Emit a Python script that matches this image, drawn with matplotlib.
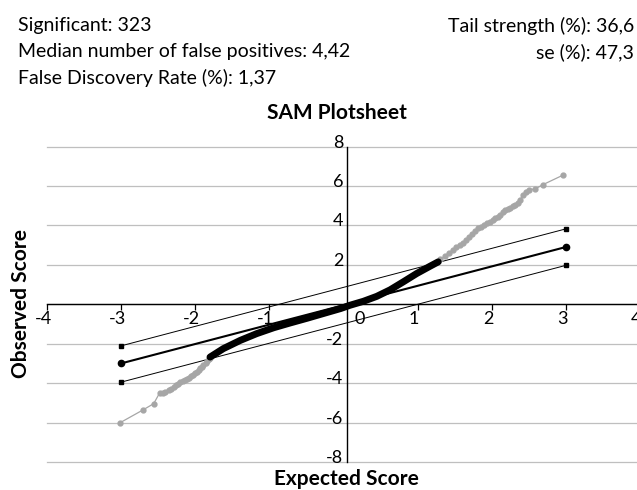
import matplotlib
matplotlib.use("Agg")
import matplotlib.pyplot as plt

plt.rcParams["font.family"] = ["Lato", "DejaVu Sans"]

# --- data ---
# non-significant genes (black band)
mid_x = [-1.80, -1.62, -1.39, -1.17, -0.94, -0.72, -0.49, -0.27, -0.04, 0.09,
         0.27, 0.45, 0.63, 0.81, 0.99, 1.17, 1.28]
mid_y = [-2.68, -2.25, -1.83, -1.49, -1.19, -0.95, -0.71, -0.47, -0.22, -0.05,
         0.15, 0.40, 0.73, 1.14, 1.56, 1.93, 2.15]
# significant genes, upper tail (grey)
up_x = [1.26, 1.31, 1.37, 1.42, 1.48, 1.52, 1.57, 1.62, 1.66, 1.70, 1.74, 1.78,
        1.82, 1.86, 1.90, 1.94, 1.98, 2.02, 2.05, 2.08, 2.11, 2.15, 2.18, 2.22,
        2.25, 2.29, 2.32, 2.35, 2.38, 2.43, 2.46, 2.50, 2.59, 2.69, 2.97]
up_y = [2.15, 2.30, 2.45, 2.60, 2.75, 2.88, 3.00, 3.13, 3.26, 3.40, 3.55, 3.70,
        3.85, 3.94, 4.02, 4.10, 4.19, 4.27, 4.35, 4.44, 4.53, 4.66, 4.79, 4.85,
        4.90, 4.97, 5.04, 5.16, 5.29, 5.55, 5.70, 5.80, 5.85, 6.06, 6.56]
# significant genes, lower tail (grey)
lo_x = [-3.01, -2.70, -2.56, -2.48, -2.44, -2.41, -2.36, -2.32, -2.29, -2.26,
        -2.23, -2.20, -2.17, -2.14, -2.11, -2.09, -2.06, -2.03, -2.00, -1.98,
        -1.95, -1.93, -1.91, -1.89, -1.86, -1.84, -1.82, -1.80]
lo_y = [-6.00, -5.35, -5.04, -4.50, -4.48, -4.45, -4.36, -4.28, -4.19, -4.10,
        -4.02, -3.94, -3.90, -3.85, -3.78, -3.72, -3.65, -3.58, -3.51, -3.44,
        -3.34, -3.25, -3.17, -3.10, -3.00, -2.90, -2.80, -2.71]
# delta band and median line
band_x = [-3, 3]
median_y = [-3.00, 2.90]
upper_y = [-2.11, 3.82]
lower_y = [-3.95, 1.97]

xticks = [-4, -3, -2, -1, 0, 1, 2, 3, 4]
yticks = [-8, -6, -4, -2, 0, 2, 4, 6, 8]

header_left = ["Significant: 323",
               "Median number of false positives: 4,42",
               "False Discovery Rate (%): 1,37"]
header_right = ["Tail strength (%): 36,6", "se (%): 47,3"]

W, H = 637, 490
fig = plt.figure(figsize=(W / 100, H / 100), dpi=100)
ax = fig.add_axes([47 / W, (H - 462) / H, (W - 47) / W, (462 - 146.5) / H])
ax.set_xlim(-4, -4 + 590 / 74.1)
ax.set_ylim(-8, 8)

grid = "#bfbfbf"
for v in yticks:
    ax.axhline(v, color=grid, lw=0.9, zorder=0, clip_on=False)

for s in ["top", "right"]:
    ax.spines[s].set_visible(False)
ax.spines["bottom"].set_position(("data", 0))
ax.spines["left"].set_position(("data", 0.045))
ax.spines["bottom"].set_linewidth(1.0)
ax.spines["left"].set_linewidth(1.0)
ax.set_xticks(xticks[:-1])
ax.set_xticklabels([])
ax.tick_params(axis="x", direction="out", length=4, width=0.9, color="black")
ax.set_yticks([])

# tick labels by hand (Excel style)
tick_fs = 13
for v in xticks:
    dx = 0.22 if v == 0 else -0.05
    ax.text(v + dx, -0.35, str(v), ha="center", va="top",
            fontsize=tick_fs, clip_on=False)
for v in yticks:
    if v == 0:
        continue
    ax.text(0.0, v + 0.2, str(v), ha="right", va="center", fontsize=tick_fs)

# band lines
ax.plot(band_x, upper_y, color="black", lw=0.7, marker="s", ms=3, zorder=3)
ax.plot(band_x, lower_y, color="black", lw=0.7, marker="s", ms=3, zorder=3)
ax.plot(band_x, median_y, color="black", lw=1.5, marker="o", ms=4.5, zorder=3)

# observed vs expected
grey = "#a6a6a6"
ax.plot(up_x, up_y, color=grey, lw=0.9, marker="o", ms=3.5, zorder=4)
ax.plot(lo_x, lo_y, color=grey, lw=0.9, marker="o", ms=3.5, zorder=4)
ax.plot(mid_x, mid_y, color="black", lw=5, solid_capstyle="round", zorder=5)

# texts
head_fs = 14
for i, t in enumerate(header_left):
    fig.text(18 / W, 1 - (26 + 26 * i) / H, t, ha="left", va="center", fontsize=head_fs)
for i, t in enumerate(header_right):
    fig.text(634 / W, 1 - (26 + 26 * i) / H, t, ha="right", va="center", fontsize=head_fs)
lab_fs = 15
fig.text(337 / W, 1 - 113 / H, "SAM Plotsheet", ha="center", va="center",
         fontsize=lab_fs, fontweight="bold")
fig.text(346 / W, 1 - 479 / H, "Expected Score", ha="center", va="center",
         fontsize=lab_fs, fontweight="bold")
fig.text(21 / W, 1 - 304 / H, "Observed Score", ha="center", va="center",
         rotation=90, fontsize=lab_fs, fontweight="bold")

fig.savefig("out.png", dpi=100)
